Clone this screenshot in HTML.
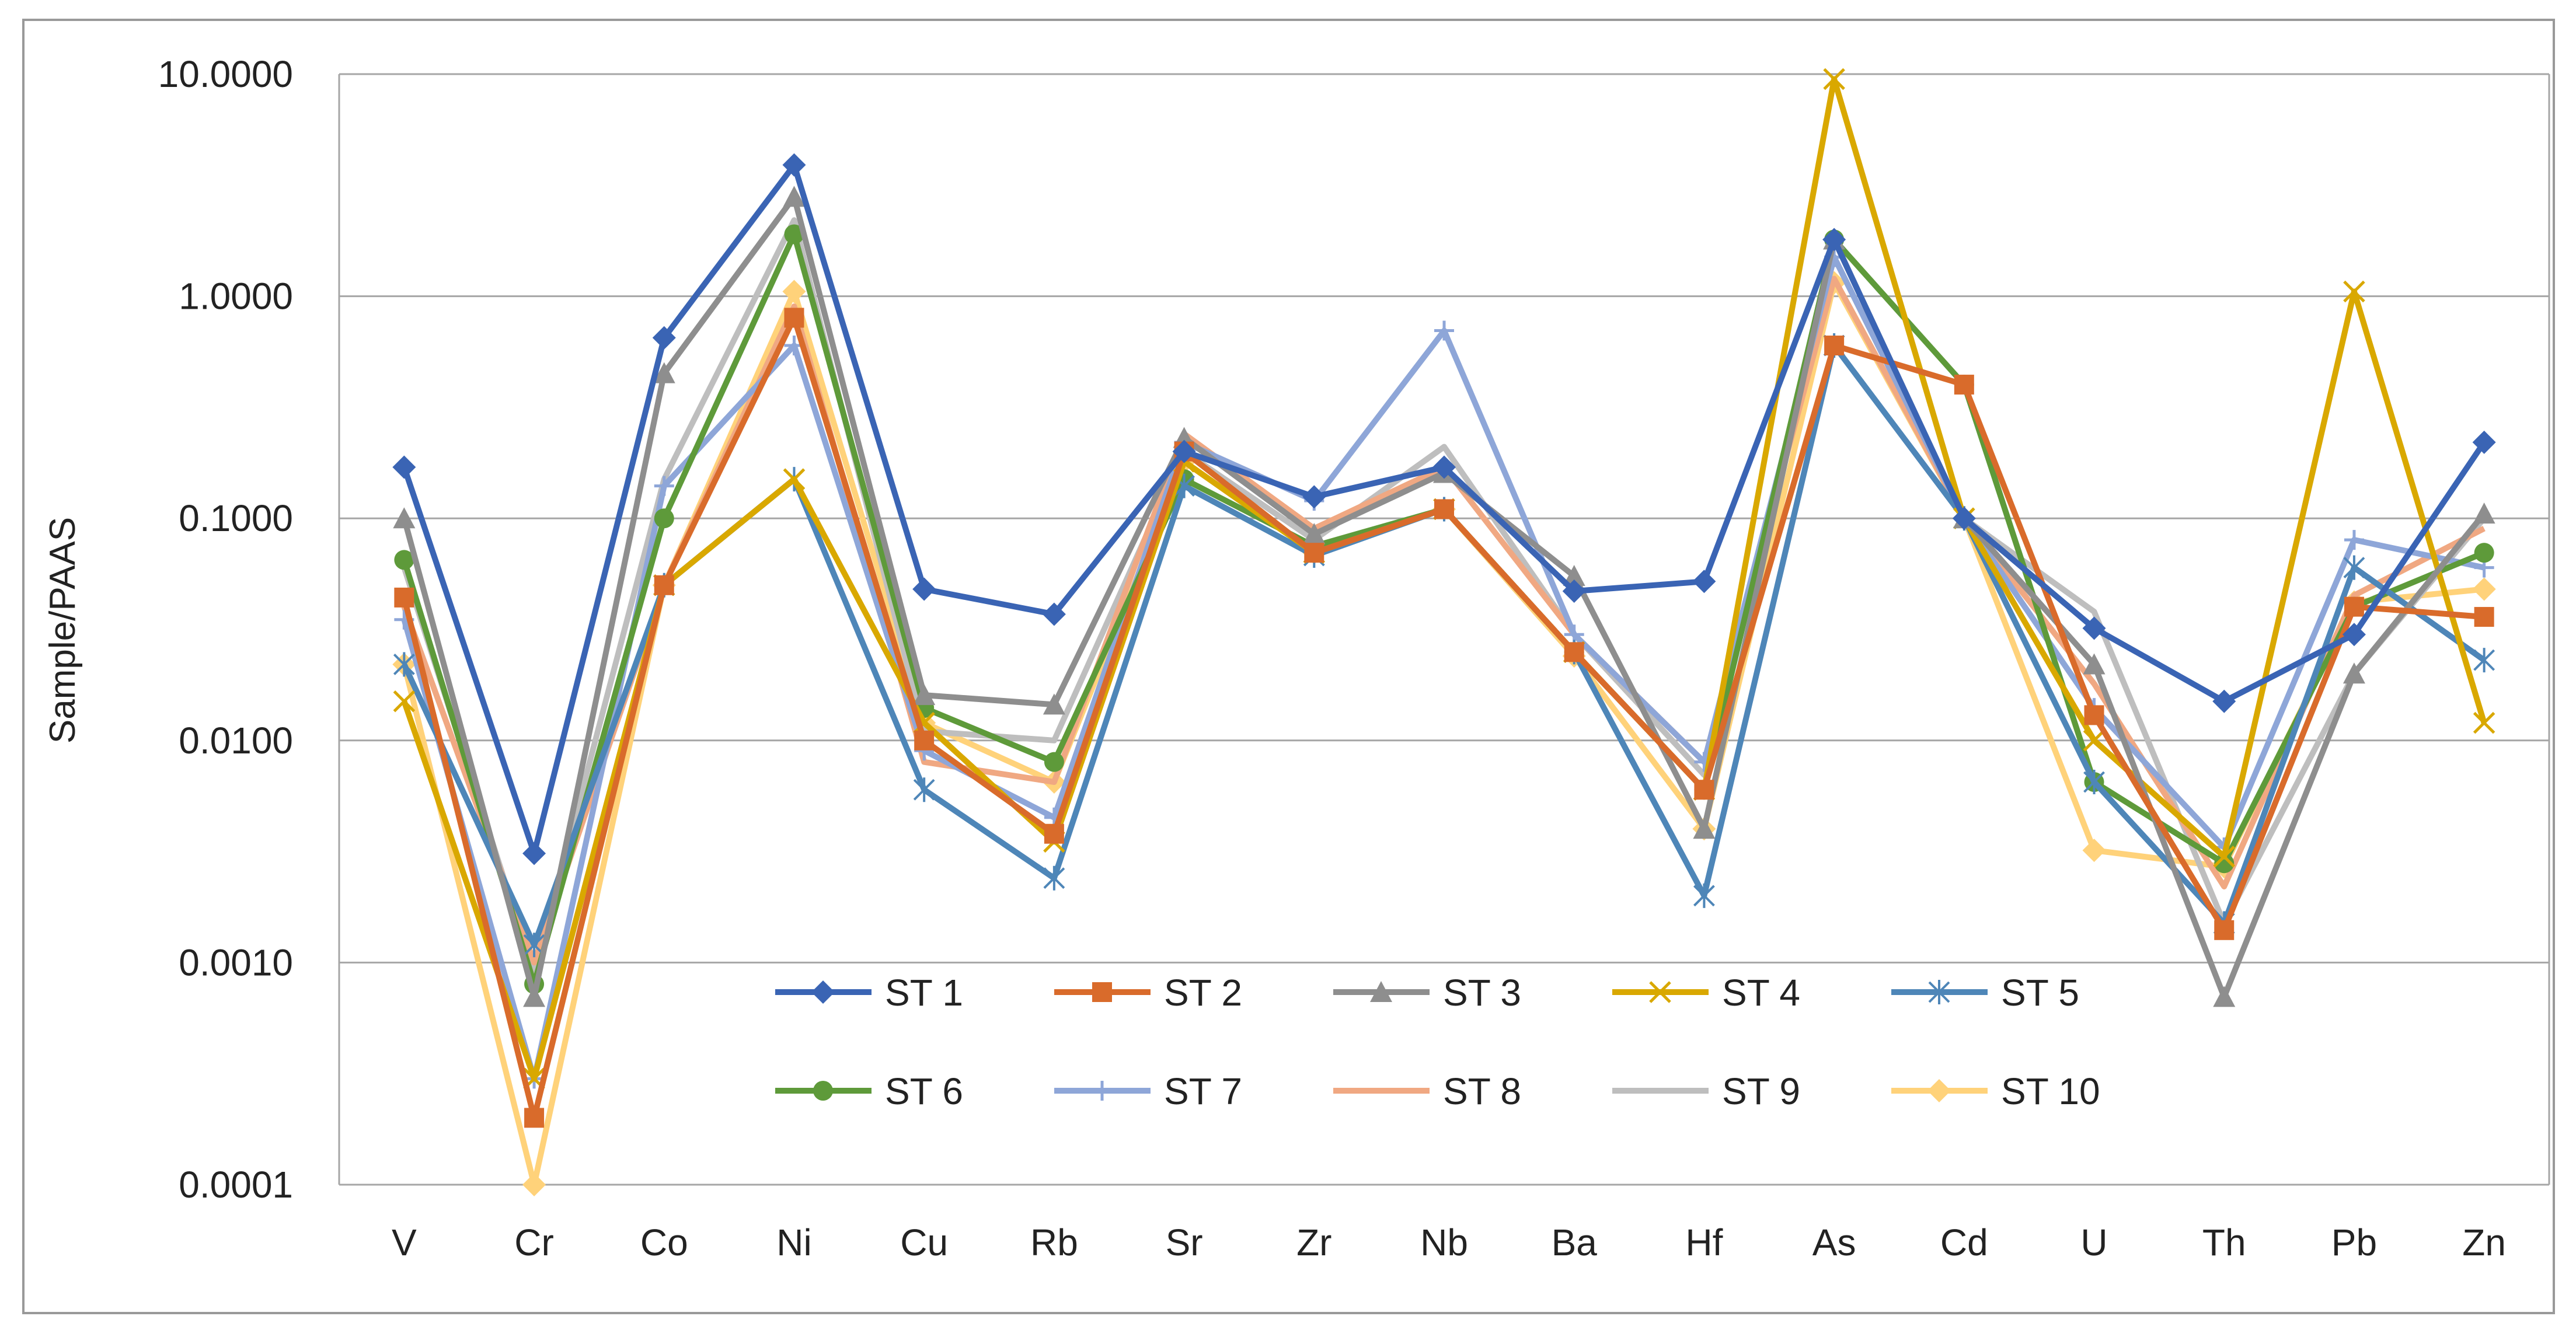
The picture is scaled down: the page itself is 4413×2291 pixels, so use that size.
<!DOCTYPE html>
<html><head><meta charset="utf-8"><style>
html,body{margin:0;padding:0;background:#fff;}
svg text{font-family:"Liberation Sans",sans-serif;fill:#222;}
</style></head><body>
<svg id="chart" width="4413" height="2286" xmlns="http://www.w3.org/2000/svg">
<rect x="40" y="34" width="4335" height="2216" fill="#fff" stroke="#999" stroke-width="4"/>
<g id="grid"></g>
<g id="yticks"></g>
<g id="xticks"></g>
<text transform="translate(128,1080) rotate(-90)" text-anchor="middle" font-size="62">Sample/PAAS</text>
<g id="series"></g>
<g id="legend"></g>
</svg>
<script>
const categories=["V","Cr","Co","Ni","Cu","Rb","Sr","Zr","Nb","Ba","Hf","As","Cd","U","Th","Pb","Zn"];
const seriesNames=["ST 1","ST 2","ST 3","ST 4","ST 5","ST 6","ST 7","ST 8","ST 9","ST 10"];
const yTickLabels=["10.0000","1.0000","0.1000","0.0100","0.0010","0.0001"];
const yTickValues=[10,1,0.1,0.01,0.001,0.0001];
const st1=[0.17,0.0031,0.65,3.9,0.048,0.037,0.2,0.125,0.17,0.047,0.052,1.8,0.1,0.032,0.015,0.03,0.22];
const st2=[0.044,0.0002,0.05,0.8,0.01,0.0038,0.2,0.07,0.11,0.025,0.006,0.6,0.4,0.013,0.0014,0.04,0.036];
const st3=[0.1,0.0007,0.45,2.8,0.016,0.0145,0.23,0.085,0.16,0.055,0.004,1.8,0.1,0.022,0.0007,0.02,0.105];
const st4=[0.015,0.0003,0.05,0.15,0.012,0.0035,0.18,0.07,0.11,0.025,0.006,9.5,0.1,0.01,0.003,1.05,0.012];
const st5=[0.022,0.0012,0.05,0.15,0.006,0.0024,0.14,0.068,0.11,0.025,0.002,0.6,0.1,0.0065,0.0015,0.06,0.023];
const st6=[0.065,0.0008,0.1,1.9,0.014,0.008,0.15,0.075,0.11,0.025,0.006,1.8,0.4,0.0065,0.0028,0.04,0.07];
const st7=[0.035,0.0003,0.14,0.6,0.009,0.0045,0.22,0.12,0.7,0.03,0.008,1.5,0.1,0.014,0.0033,0.08,0.06];
const st8=[0.04,0.001,0.05,0.9,0.008,0.0065,0.24,0.09,0.17,0.03,0.008,1.2,0.1,0.018,0.0022,0.045,0.09];
const st9=[0.06,0.0009,0.15,2.2,0.011,0.01,0.2,0.08,0.21,0.03,0.007,1.5,0.1,0.038,0.0015,0.02,0.1];
const st10=[0.022,0.0001,0.05,1.05,0.012,0.0065,0.18,0.07,0.11,0.024,0.004,1.15,0.1,0.0032,0.0027,0.042,0.048];
const allSeries=[st1,st2,st3,st4,st5,st6,st7,st8,st9,st10];
const colors=["#3A64B4","#D96B2B","#8E8E8E","#D9A800","#4E86B8","#5E9A3A","#8EA6D8","#F0A882","#BEBEBE","#FFD27A"];
const markers=["diamond","square","triangle","x","star","circle","plus","none","none","diamond"];

const NS="http://www.w3.org/2000/svg";
const PL=581,PR=4367,PT=127,PB=2030;
const step=(PR-PL)/categories.length;
function xs(i){return PL+step*(i+0.5);}
function ys(v){return PT+(1-Math.log10(v))*(PB-PT)/5;}
function mk(tag,attrs,parent){const e=document.createElementNS(NS,tag);for(const k in attrs)e.setAttribute(k,attrs[k]);parent.appendChild(e);return e;}

const grid=document.getElementById('grid'),yt=document.getElementById('yticks'),xt=document.getElementById('xticks');
yTickValues.forEach((v,i)=>{
  const l=mk('line',{x1:PL,x2:PR,y1:ys(v),y2:ys(v),stroke:'#a6a6a6','stroke-width':3},grid);
  
  
  const t=mk('text',{x:502,y:ys(v)+22,'text-anchor':'end','font-size':64},yt);
  t.textContent=yTickLabels[i];
  
  
});
const lft=mk('line',{x1:PL,x2:PL,y1:PT,y2:PB,stroke:'#a6a6a6','stroke-width':3},grid);


const rgt=mk('line',{x1:PR,x2:PR,y1:PT,y2:PB,stroke:'#a6a6a6','stroke-width':3},grid);


categories.forEach((c,i)=>{
  const t=mk('text',{x:xs(i),y:2151,'text-anchor':'middle','font-size':64},xt);
  t.textContent=c;
  
  
});

function marker(type,x,y,col,g){
  const s=17;let e=null;
  if(type==='diamond')e=mk('polygon',{points:`${x},${y-s-3} ${x+s+3},${y} ${x},${y+s+3} ${x-s-3},${y}`,fill:col},g);
  else if(type==='square')e=mk('rect',{x:x-s,y:y-s,width:2*s,height:2*s,fill:col},g);
  else if(type==='triangle')e=mk('polygon',{points:`${x},${y-s-2} ${x+s+2},${y+s} ${x-s-2},${y+s}`,fill:col},g);
  else if(type==='circle')e=mk('circle',{cx:x,cy:y,r:s,fill:col},g);
  else if(type==='x')e=mk('path',{d:`M${x-s} ${y-s}L${x+s} ${y+s}M${x-s} ${y+s}L${x+s} ${y-s}`,stroke:col,'stroke-width':5,fill:'none'},g);
  else if(type==='plus')e=mk('path',{d:`M${x-s} ${y}L${x+s} ${y}M${x} ${y-s}L${x} ${y+s}`,stroke:col,'stroke-width':5,fill:'none'},g);
  else if(type==='star')e=mk('path',{d:`M${x-s} ${y-s}L${x+s} ${y+s}M${x-s} ${y+s}L${x+s} ${y-s}M${x} ${y-s-4}L${x} ${y+s+4}`,stroke:col,'stroke-width':4,fill:'none'},g);
  if(e){}
}

const sg=document.getElementById('series');
for(let k=allSeries.length-1;k>=0;k--){
  const g=mk('g',{},sg);
  
  
  const d=allSeries[k].map((v,i)=>(i?'L':'M')+xs(i).toFixed(1)+' '+ys(v).toFixed(1)).join('');
  const p=mk('path',{d:d,fill:'none',stroke:colors[k],'stroke-width':10,'stroke-linejoin':'round'},g);
  
  
  allSeries[k].forEach((v,i)=>marker(markers[k],xs(i),ys(v),colors[k],g));
}

const lg=document.getElementById('legend');
seriesNames.forEach((n,k)=>{
  const row=Math.floor(k/5),col=k%5;
  const x0=1328+col*478,y0=1700+row*169;
  const g=mk('g',{},lg);
  
  
  const l=mk('line',{x1:x0,x2:x0+165,y1:y0,y2:y0,stroke:colors[k],'stroke-width':10},g);
  
  
  marker(markers[k],x0+82,y0,colors[k],g);
  const t=mk('text',{x:x0+188,y:y0+23,'font-size':64},g);
  t.textContent=n;
  
  
});
</script>
</body></html>
